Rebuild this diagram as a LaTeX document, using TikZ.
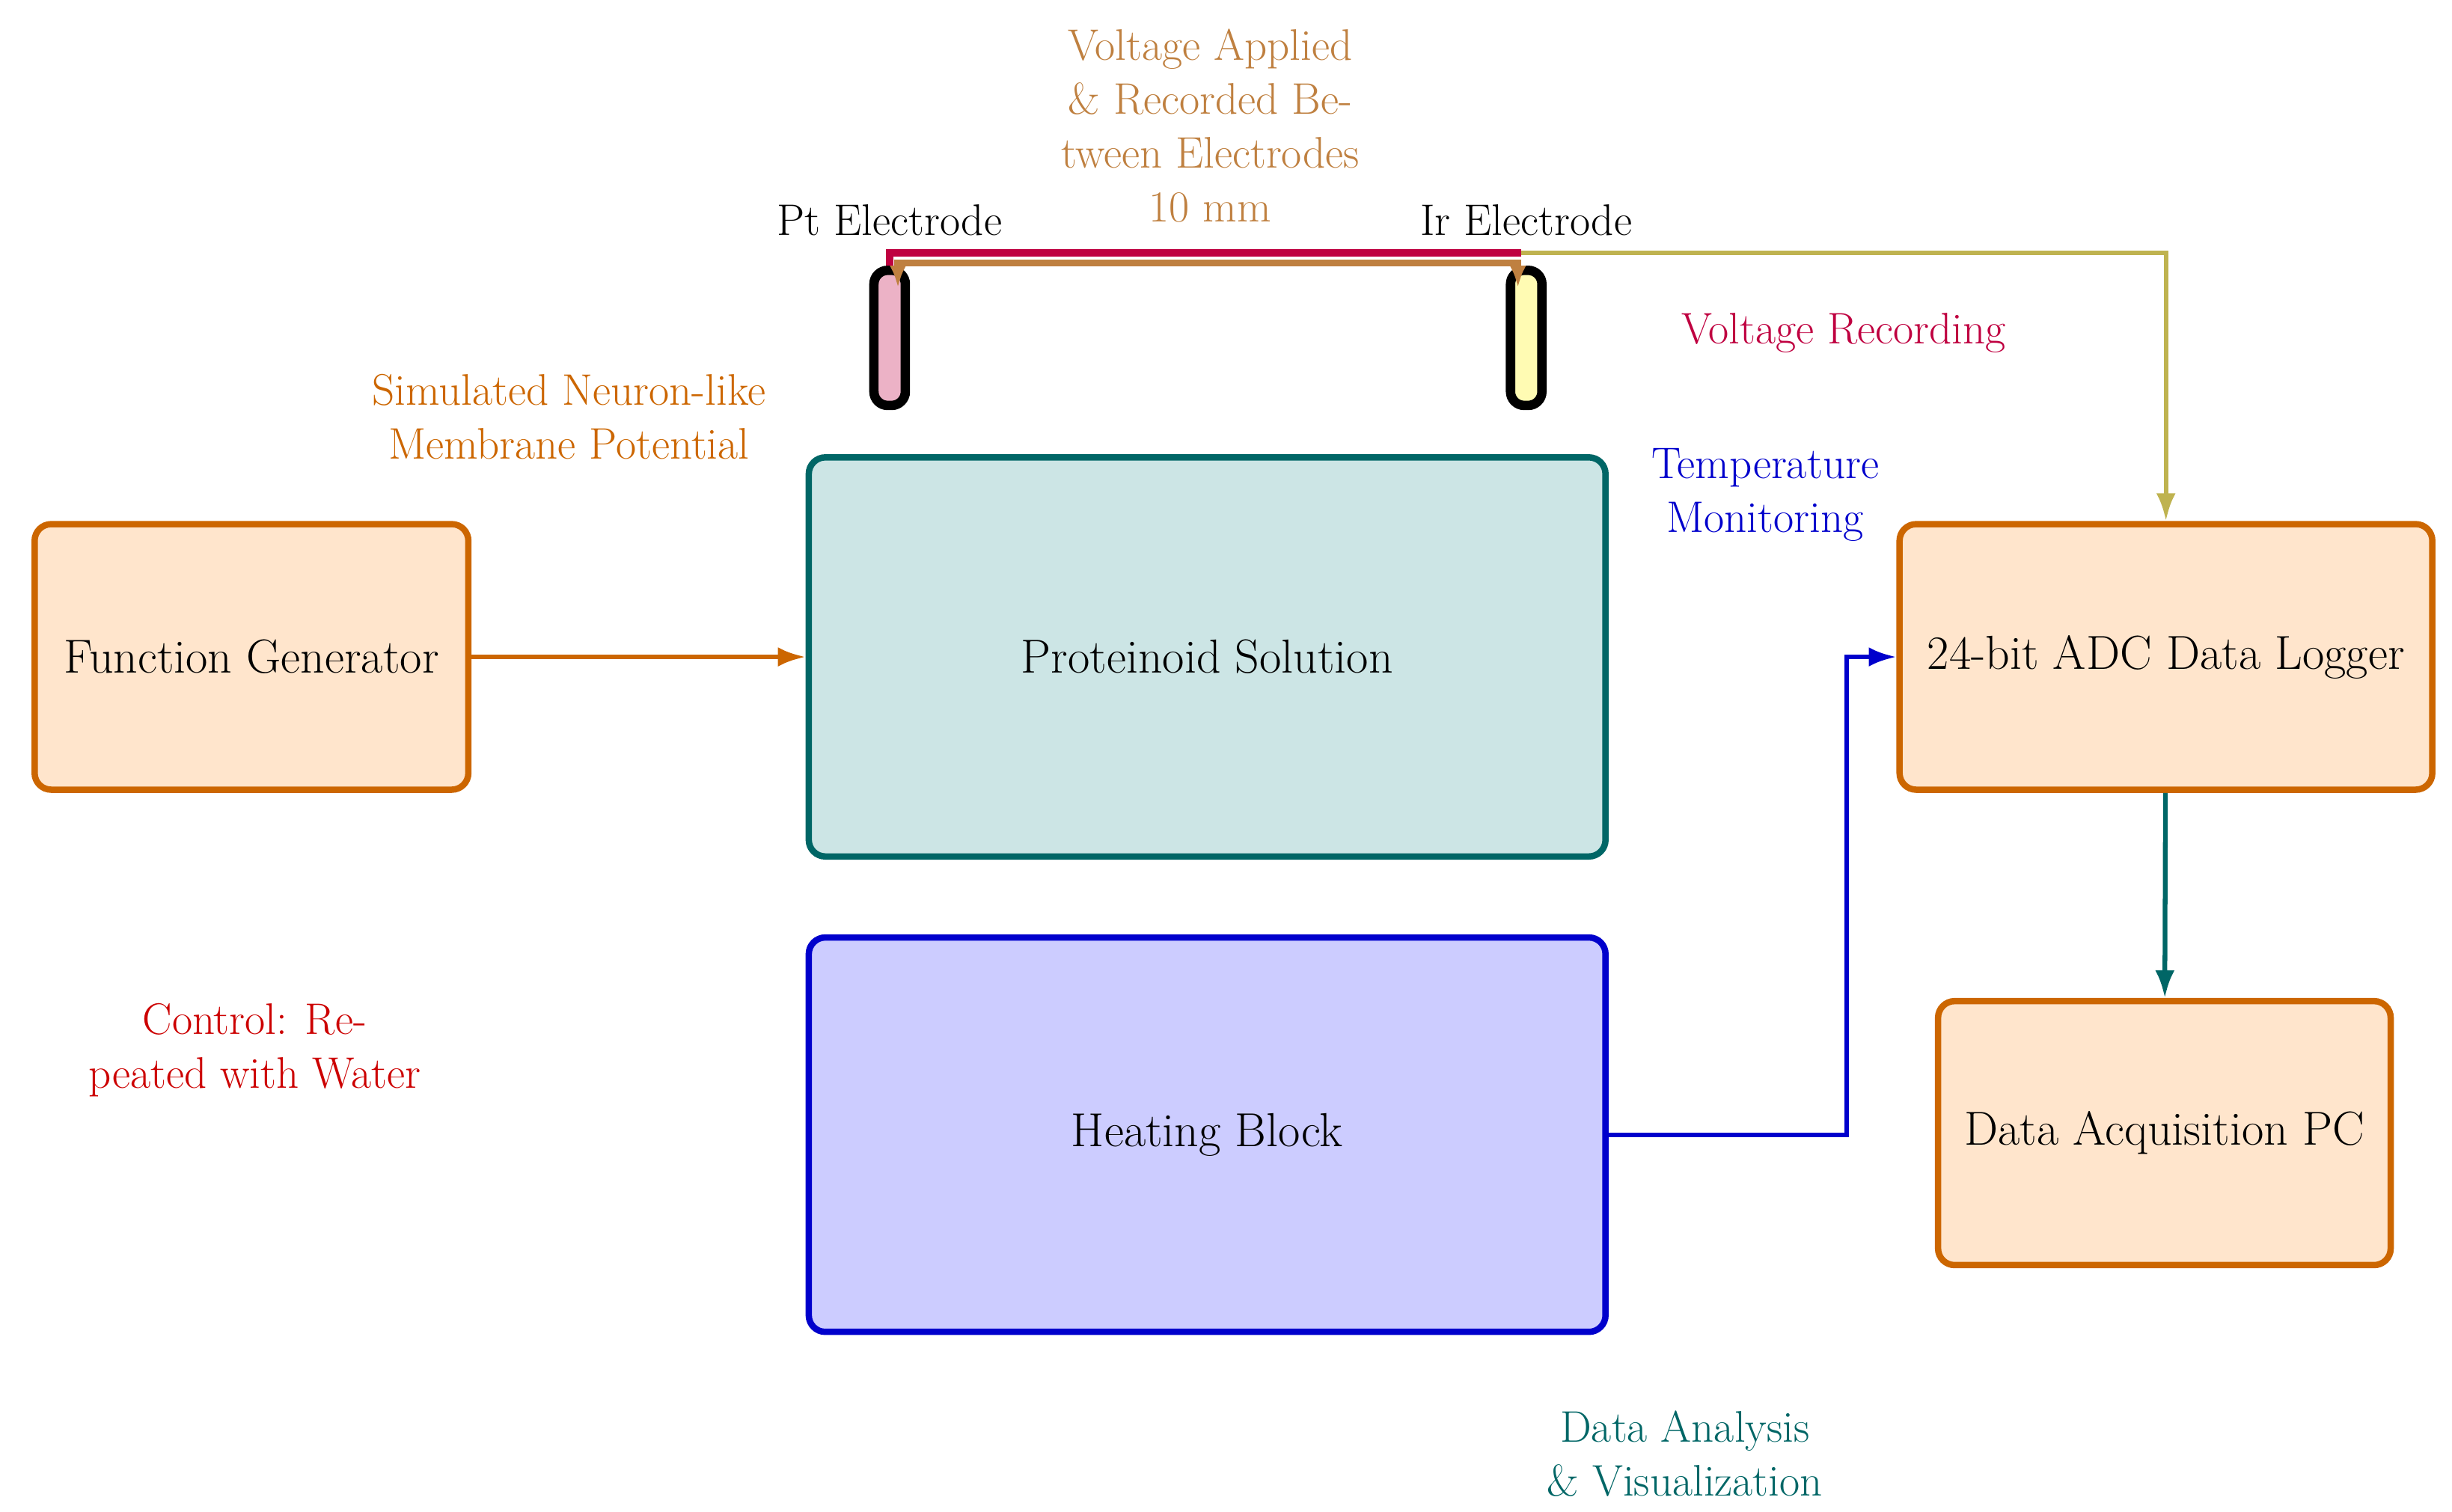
\documentclass[tikz,border=0pt]{standalone}
\usepackage{tikz}
\usetikzlibrary{arrows.meta}
\definecolor{fgline}{RGB}{204,102,0}
\definecolor{fgfill}{RGB}{255,229,204}
\definecolor{solline}{RGB}{0,102,102}
\definecolor{solfill}{RGB}{204,229,229}
\definecolor{heatline}{RGB}{0,0,204}
\definecolor{heatfill}{RGB}{204,204,255}
\definecolor{vrec}{RGB}{191,0,64}
\definecolor{vapp}{RGB}{191,128,64}
\definecolor{olivel}{RGB}{191,179,80}
\tikzstyle{device} = [rectangle, rounded corners=6pt, text centered, draw=fgline, fill=fgfill, line width=2.3pt, font=\LARGE, inner sep=1pt]
\tikzstyle{vessel} = [rectangle, rounded corners=6pt, text centered, line width=2.3pt, font=\LARGE]
\tikzstyle{electrode} = [rectangle, rounded corners=5pt, draw=black, line width=3.4pt, minimum width=0.4cm, minimum height=1.72cm, inner sep=0pt]
\tikzstyle{note} = [align=center, font=\fontsize{16}{19.5}\selectfont]
\tikzstyle{arrow} = [line width=1.7pt, -{Latex[length=10pt,width=7pt]}]

\begin{document}
\begin{tikzpicture}[x=0.02cm, y=-0.02cm]
    \useasboundingbox (0,0) rectangle (1560,962);

    % boxes
    \node (fgen) [device, minimum width=5.52cm, minimum height=3.38cm] at (160,418) {Function Generator};
    \node (solution) [vessel, draw=solline, fill=solfill, minimum width=10.14cm, minimum height=5.08cm] at (768,418) {Proteinoid Solution};
    \node (heater) [vessel, draw=heatline, fill=heatfill, minimum width=10.14cm, minimum height=5.02cm] at (768,722) {Heating Block};
    \node (logger) [device, minimum width=6.78cm, minimum height=3.38cm] at (1378,418) {24-bit ADC Data Logger};
    \node (pc) [device, minimum width=5.76cm, minimum height=3.36cm] at (1377,721) {Data Acquisition PC};

    % electrodes
    \node (pt) [electrode, fill=purple!30] at (566,215) {};
    \node (ir) [electrode, fill=yellow!30] at (971,215) {};
    \node (ptlabel) [note, text=black] at (566,140) {Pt Electrode};
    \node (irlabel) [note, text=black] at (971,140) {Ir Electrode};
    \coordinate (ptup) at (566,161);
    \coordinate (irup) at (968,161);
    \coordinate (corner) at (1378,161);

    % labels
    \node (applied) [note, text=vapp] at (770,80) {Voltage Applied\\\& Recorded Be-\\tween Electrodes\\10 mm};
    \node (recording) [note, text=vrec] at (1173,212) {Voltage Recording};
    \node (simulated) [note, text=fgline] at (362,265) {Simulated Neuron-like\\Membrane Potential};
    \node (temp) [note, text=heatline] at (1123,315) {Temperature\\Monitoring};
    \node (control) [note, text=red!80!black] at (162,668) {Control: Re-\\peated with Water};
    \node (analysis) [note, text=solline] at (1072,925) {Data Analysis\\\& Visualization};

    % connectors
    \draw [line width=2.6pt, vrec] (pt.north) -- (ptup) -- (irup);
    \draw [line width=2.6pt, olivel, arrow] (irup) -- (corner) -- (logger.north);
    \draw [line width=2.6pt, vapp, {Latex[length=8pt,width=6pt]}-{Latex[length=8pt,width=6pt]}] ([xshift=3pt,yshift=-8pt]pt.north) -- ++(0,9pt) -| ([xshift=-3pt,yshift=-8pt]ir.north);
    \draw [arrow, fgline] (fgen) -- (solution);
    \draw [arrow, solline] (logger) -- (pc);
    \draw [arrow, heatline] (heater.east) -- (1175,722) -- (1175,418) -- (logger.west);
\end{tikzpicture}
\end{document}
